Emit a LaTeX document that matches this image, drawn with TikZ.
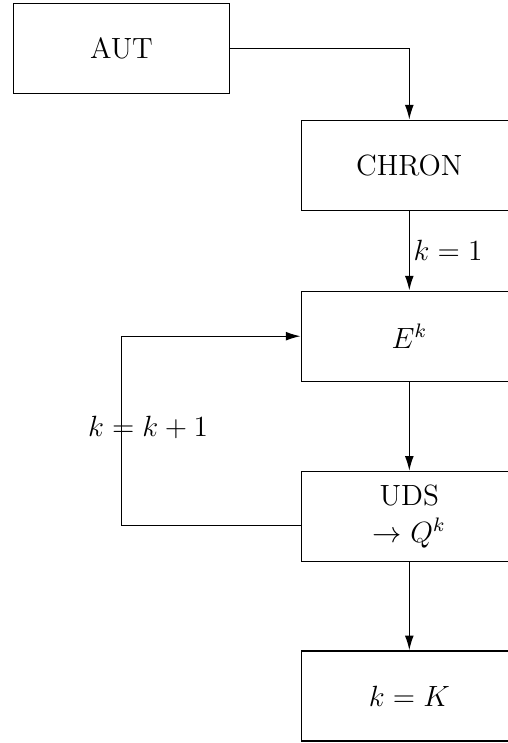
\documentclass[tikz,border=0pt,12pt]{standalone}
\usepackage{fontspec}
\usetikzlibrary{arrows.meta}
\begin{document}
\begin{tikzpicture}[x=0.41pt,y=-0.41pt,
  blk/.style={draw,line width=0.55pt,minimum width=88.6pt,minimum height=36.9pt,inner sep=0pt,align=center,font=\fontsize{12}{14.8}\selectfont},
  conn/.style={line width=0.55pt,-{Latex[length=6pt,width=3.6pt]}},
  lbl/.style={font=\fontsize{12}{14.8}\selectfont,inner sep=0pt}]
\clip (0,0) rectangle (508,743);
\node[blk] (aut) at (121.5,48.5) {AUT};
\node[blk] (chron) at (409.3,165.3) {CHRON};
\node[blk] (e) at (409.3,336.2) {$E^k$};
\node[blk] (uds) at (409.3,516.5) {UDS\\$\to Q^k$};
\node[blk] (kk) at (409.3,696) {$k=K$};
\coordinate (c1) at (409.3,48.5);
\coordinate (lb) at (121.3,525.3);
\coordinate (lt) at (121.3,336.2);
\coordinate (ur) at (301.3,525.3);
\draw[conn] (aut.east) -- (c1) -- (chron.north);
\draw[conn] (chron.south) -- node[lbl,anchor=west,xshift=1.5pt] {$k=1$} (e.north);
\draw[conn] (e.south) -- (uds.north);
\draw[conn] (uds.south) -- (kk.north);
\draw[conn] (ur) -- (lb) -- (lt) -- (e.west);
\node[lbl] (inc) at (148,427) {$k=k+1$};
\end{tikzpicture}
\end{document}
